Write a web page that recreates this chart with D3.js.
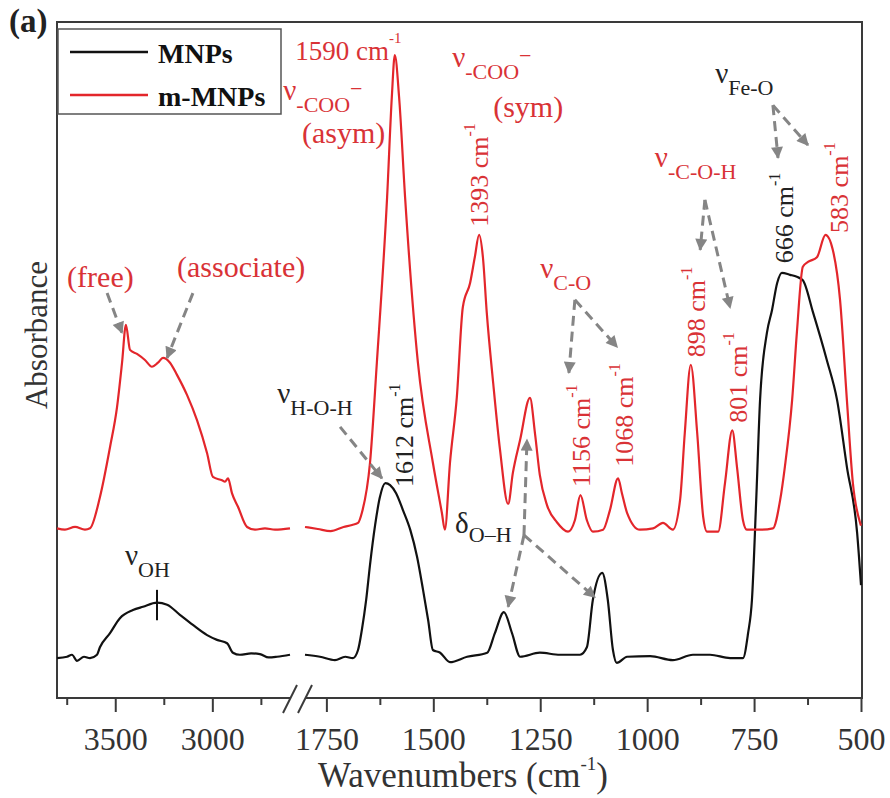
<!DOCTYPE html>
<html>
<head>
<meta charset="utf-8">
<script src="https://cdn.jsdelivr.net/npm/d3@7/dist/d3.min.js"></script>
<style>
  body { margin: 0; background: #fff; }
  svg, svg text { font-family: "Liberation Serif", "Times New Roman", Times, "DejaVu Serif", serif; }
</style>
</head>
<body>
<div id="chart"></div>
<script>
// ---- data: [wavenumber (cm-1), absorbance (a.u.)] ----
// m-MNPs, high wavenumber part (3800 - 2600)
var mMnpsHigh = [[3800,25.1],[3759,24.9],[3707,25.3],[3656,24.9],[3630,25.1],[3579,29.7],[3527,37.1],
  [3491,43.0],[3465,49.6],[3445,55.2],[3424,51.5],[3388,50.9],[3347,50.0],[3311,49.0],[3280,49.6],
  [3254,50.3],[3218,49.6],[3182,47.8],[3130,44.8],[3079,41.1],[3027,36.2],[2997,32.7],[2950,32.2],
  [2935,32.0],[2919,32.5],[2899,30.3],[2868,28.3],[2821,25.3],[2780,24.9],[2729,25.1],[2677,24.9],[2600,25.1]];
// m-MNPs, fingerprint part (1800 - 500)
var mMnpsLow = [[1800,25.3],[1770,25.0],[1740,24.7],[1710,25.3],[1690,25.6],[1676,25.9],[1667,27.4],
  [1648,34.8],[1632,49.6],[1608,74.1],[1597,88.9],[1590,95.1],[1580,88.9],[1566,74.1],[1536,49.6],
  [1501,34.8],[1480,27.4],[1473,24.9],[1461,34.8],[1445,44.5],[1431,57.8],[1414,61.4],[1403,65.2],
  [1393,68.5],[1384,65.2],[1375,57.0],[1360,46.6],[1344,36.7],[1325,28.7],[1314,33.3],[1297,38.2],
  [1274,44.4],[1262,39.0],[1251,33.0],[1234,28.5],[1211,26.0],[1185,24.6],[1169,26.3],[1156,30.0],
  [1141,26.3],[1127,24.6],[1103,24.9],[1087,27.8],[1068,32.5],[1059,30.3],[1047,27.4],[1017,24.9],
  [986,25.1],[963,25.9],[940,24.9],[923,29.3],[912,39.2],[898,49.3],[883,39.2],[869,26.8],[860,24.6],
  [834,24.6],[818,31.8],[801,39.6],[790,34.2],[776,26.3],[767,24.9],[736,24.9],[706,25.1],[689,29.3],
  [678,34.2],[661,44.1],[650,54.0],[636,63.8],[624,64.5],[603,65.2],[583,68.5],[566,66.3],[549,58.9],
  [533,44.1],[519,31.8],[502,25.9],[500,25.5]];
// MNPs, high wavenumber part
var mnpsHigh = [[3800,5.9],[3748,6.1],[3723,6.4],[3697,5.5],[3661,6.1],[3630,5.9],[3594,6.4],[3579,7.5],
  [3527,9.6],[3476,11.8],[3409,13.0],[3357,13.5],[3285,14.1],[3233,13.8],[3167,12.3],[3100,10.8],
  [3027,9.3],[2976,8.6],[2924,8.1],[2894,6.7],[2858,6.4],[2800,6.6],[2755,6.5],[2710,6.0],[2667,6.1],[2600,6.4]];
// MNPs, fingerprint part
var mnpsLow = [[1800,6.4],[1765,6.1],[1730,5.6],[1706,6.1],[1688,5.9],[1676,7.1],[1667,10.1],[1657,14.5],
  [1648,19.7],[1636,25.6],[1625,29.7],[1612,31.8],[1601,31.5],[1587,30.3],[1571,27.8],[1554,24.9],
  [1538,20.9],[1524,16.0],[1512,11.5],[1501,7.1],[1484,6.7],[1461,5.3],[1421,6.1],[1374,6.7],[1356,9.6],
  [1335,12.7],[1316,9.6],[1297,6.1],[1251,6.7],[1204,6.4],[1157,6.4],[1141,7.5],[1127,14.5],[1105,18.5],
  [1092,14.5],[1080,7.1],[1071,5.2],[1047,6.1],[993,6.2],[940,5.6],[893,6.4],[853,6.4],[806,5.9],
  [776,5.9],[764,9.6],[755,14.5],[745,29.3],[736,44.1],[720,54.0],[708,57.4],[696,61.4],[685,62.9],
  [666,62.6],[650,62.3],[636,61.8],[612,57.0],[580,50.0],[556,44.1],[533,34.2],[509,24.4],[500,16.7]];

var seriesNames = ["MNPs", "m-MNPs"];
var seriesColors = ["#111111", "#e3262b"];

// ticks
var majorHigh = [3500, 3000];
var minorHigh = [3750, 3250, 2750];
var majorLow = [1750, 1500, 1250, 1000, 750, 500];
var minorLow = [1625, 1375, 1125, 875, 625];

// annotations, anchored in data units
var peakLabels = [ // rotated "xxx cm-1"
  {t: "1393 cm", wn: 1372, a: 69.7, s: 1},
  {t: "1612 cm", wn: 1547, a: 31.2, s: 0},
  {t: "1156 cm", wn: 1134, a: 31.2, s: 1},
  {t: "1068 cm", wn: 1033, a: 34.2, s: 1},
  {t: "898 cm",  wn: 865,  a: 50.4, s: 1},
  {t: "801 cm",  wn: 767,  a: 40.7, s: 1},
  {t: "666 cm",  wn: 659,  a: 64.3, s: 0},
  {t: "583 cm",  wn: 530,  a: 68.8, s: 1}
];
var bandLabels = [ // main symbol + subscript (+ superscript)
  {main: "ν", sub: "-COO", sup: "−", wn: 1851, a: 88.5, s: 1},
  {main: "ν", sub: "-COO", sup: "−", wn: 1456, a: 93.3, s: 1},
  {main: "ν", sub: "H-O-H", wn: 1865, a: 43.6, s: 0},
  {main: "ν", sub: "OH", wn: 3450, a: 19.7, s: 0},
  {main: "ν", sub: "C-O", wn: 1250, a: 62.1, s: 1},
  {main: "ν", sub: "-C-O-H", wn: 982, a: 78.6, s: 1},
  {main: "ν", sub: "Fe-O", wn: 841, a: 91.0, s: 0},
  {main: "δ", sub: "O–H", wn: 1449, a: 24.4, s: 0}
];
var plainLabels = [
  {t: "(asym)", wn: 1807, a: 82.1, s: 1},
  {t: "(sym)", wn: 1360, a: 85.9, s: 1},
  {t: "(free)", wn: 3748, a: 60.8, s: 1},
  {t: "(associate)", wn: 3182, a: 62.3, s: 1}
];
var arrows = [ // [from wn, from a, to wn, to a]
  [3542,59.9,3465,54.0],[3100,59.9,3233,50.3],[1718,40.1,1620,32.5],
  [1288,24.1,1281,38.2],[1288,24.1,1325,13.5],[1288,24.1,1122,14.9],
  [1169,58.9,1183,48.1],[1169,58.9,1070,51.9],
  [865,73.7,876,66.3],[865,73.7,806,57.7],
  [706,87.7,694,79.9],[706,87.7,624,81.8]
];

// ---- layout ----
var width = 890, height = 798;
var margin = {top: 22, right: 28, bottom: 100, left: 57};
var W = width - margin.left - margin.right;
var H = height - margin.top - margin.bottom;
var breakL = 233, breakR = 248;
var textRed = "#d93236";
var serif = '"Liberation Serif", "Times New Roman", Times, "DejaVu Serif", serif';

var xHigh = d3.scaleLinear().domain([3800, 2600]).range([0, breakL]);
var xLow = d3.scaleLinear().domain([1800, 500]).range([breakR, W - 1]);
var y = d3.scaleLinear().domain([0, 100]).range([H, 0]);
var X = wn => wn > 2000 ? xHigh(wn) : xLow(wn);

var svg = d3.select("#chart").append("svg")
  .attr("width", width).attr("height", height)
  .attr("font-family", serif);

svg.append("defs").append("marker")
  .attr("id", "head").attr("viewBox", "0 0 10 10")
  .attr("refX", 9).attr("refY", 5)
  .attr("markerWidth", 16).attr("markerHeight", 12)
  .attr("markerUnits", "userSpaceOnUse").attr("orient", "auto")
  .append("path").attr("d", "M0,0 L10,5 L0,10 z").attr("fill", "#858585");

var g = svg.append("g").attr("transform", `translate(${margin.left},${margin.top})`);

// frame
var frame = g.append("g").attr("stroke", "#3a3a3a").attr("stroke-width", 2).attr("fill", "none");
frame.append("path").attr("d", `M${breakL},${H} H0 V0 H${W} V${H} H${breakR}`);
[breakL, breakR].forEach(bx => {
  frame.append("line").attr("x1", bx - 7).attr("y1", H + 15).attr("x2", bx + 7).attr("y2", H - 13);
});

// axes
function drawAxis(scale, major, minor) {
  var maj = g.append("g").attr("transform", `translate(0,${H})`)
    .call(d3.axisBottom(scale).tickValues(major).tickSize(14).tickPadding(15).tickFormat(d3.format("d")));
  maj.select(".domain").remove();
  maj.attr("font-family", serif).attr("font-size", null);
  maj.selectAll(".tick line").attr("stroke", "#3a3a3a").attr("stroke-width", 2);
  maj.selectAll(".tick text").attr("fill", "#333").style("font-size", "32px");
  var mi = g.append("g").attr("transform", `translate(0,${H})`)
    .call(d3.axisBottom(scale).tickValues(minor).tickSize(7).tickFormat(""));
  mi.select(".domain").remove();
  mi.selectAll(".tick line").attr("stroke", "#3a3a3a").attr("stroke-width", 2);
}
drawAxis(xHigh, majorHigh, minorHigh);
drawAxis(xLow, majorLow, minorLow);

// spectra
var lineHigh = d3.line().x(d => xHigh(d[0])).y(d => y(d[1])).curve(d3.curveMonotoneX);
var lineLow = d3.line().x(d => xLow(d[0])).y(d => y(d[1])).curve(d3.curveMonotoneX);
var spectra = [
  {data: mnpsHigh, line: lineHigh, s: 0}, {data: mnpsLow, line: lineLow, s: 0},
  {data: mMnpsHigh, line: lineHigh, s: 1}, {data: mMnpsLow, line: lineLow, s: 1}
];
g.append("g").selectAll("path").data(spectra).enter().append("path")
  .attr("d", d => d.line(d.data))
  .attr("fill", "none")
  .attr("stroke", d => seriesColors[d.s])
  .attr("stroke-width", 2.2)
  .attr("stroke-linejoin", "round");

// nu(OH) marker on the MNPs band
g.append("line")
  .attr("x1", X(3285)).attr("x2", X(3285))
  .attr("y1", y(16.0)).attr("y2", y(11.5))
  .attr("stroke", "#111").attr("stroke-width", 2);

// arrows
g.append("g").selectAll("line").data(arrows).enter().append("line")
  .attr("x1", d => X(d[0])).attr("y1", d => y(d[1]))
  .attr("x2", d => X(d[2])).attr("y2", d => y(d[3]))
  .attr("stroke", "#858585").attr("stroke-width", 3)
  .attr("stroke-dasharray", "10,6")
  .attr("marker-end", "url(#head)");

// rotated peak labels
var pk = g.append("g").selectAll("text").data(peakLabels).enter().append("text")
  .attr("transform", d => `translate(${X(d.wn)},${y(d.a)}) rotate(-90)`)
  .attr("fill", d => d.s ? textRed : "#222")
  .style("font-size", "26px");
pk.append("tspan").text(d => d.t);
pk.append("tspan").attr("dy", -13).style("font-size", "16px").text("-1");

// band labels
var bl = g.append("g").selectAll("text").data(bandLabels).enter().append("text")
  .attr("x", d => X(d.wn)).attr("y", d => y(d.a))
  .attr("fill", d => d.s ? textRed : "#222");
bl.append("tspan").style("font-size", "29px").text(d => d.main);
bl.append("tspan").attr("dy", d => d.main === "δ" ? 9 : 12).style("font-size", "22px").text(d => d.sub);
bl.filter(d => d.sup).append("tspan").attr("dy", -16).style("font-size", "22px").text(d => d.sup);

// plain labels
g.append("g").selectAll("text").data(plainLabels).enter().append("text")
  .attr("x", d => X(d.wn)).attr("y", d => y(d.a))
  .attr("fill", textRed).style("font-size", "30px")
  .text(d => d.t);

// 1590 label
var t1590 = g.append("text").attr("x", X(1823)).attr("y", y(94.4))
  .attr("fill", textRed).style("font-size", "27px");
t1590.append("tspan").text("1590 cm");
t1590.append("tspan").attr("dy", -17).style("font-size", "15px").text("-1");

// legend
var lg = g.append("g").attr("transform", "translate(1,7)");
lg.append("rect").attr("width", 223).attr("height", 85)
  .attr("fill", "#fff").attr("stroke", "#555").attr("stroke-width", 1.5);
var li = lg.selectAll(".item").data(seriesNames).enter().append("g")
  .attr("transform", (d, i) => `translate(0,${23 + i * 43})`);
li.append("line").attr("x1", 12).attr("x2", 90)
  .attr("stroke", (d, i) => seriesColors[i]).attr("stroke-width", 2.5);
li.append("text").attr("x", 100).attr("y", 11)
  .style("font-size", "28px").style("font-weight", "bold").attr("fill", "#111")
  .text(d => d);

// axis titles
var xt = svg.append("text").attr("x", 318).attr("y", 787)
  .attr("fill", "#333").style("font-size", "35px");
xt.append("tspan").text("Wavenumbers (cm");
xt.append("tspan").attr("dy", -17).style("font-size", "19px").text("-1");
xt.append("tspan").attr("dy", 17).text(")");

svg.append("text")
  .attr("transform", "translate(47,335) rotate(-90)")
  .attr("text-anchor", "middle")
  .attr("fill", "#333").style("font-size", "31px")
  .text("Absorbance");

// panel label
svg.append("text").attr("x", 9).attr("y", 32)
  .style("font-size", "33px").style("font-weight", "bold").attr("fill", "#222")
  .text("(a)");
</script>
</body>
</html>
